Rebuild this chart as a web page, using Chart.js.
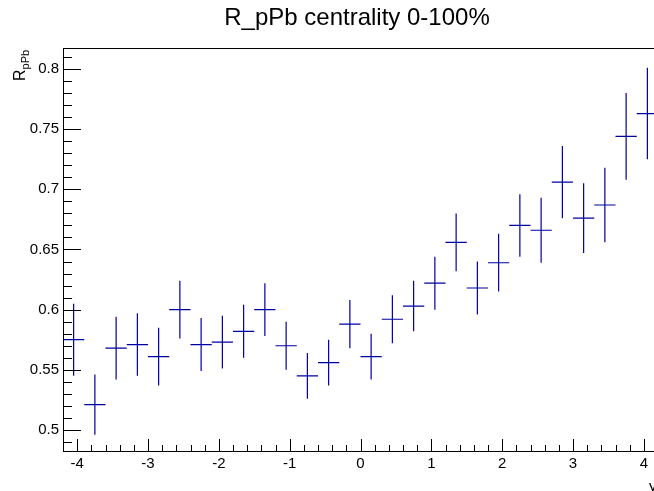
<!DOCTYPE html>
<html>
<head>
<meta charset="utf-8">
<title>R_pPb centrality 0-100%</title>
<script src="https://cdn.jsdelivr.net/npm/chart.js@4.4.1/dist/chart.umd.min.js"></script>
<style>
  html, body { margin: 0; padding: 0; background: #fff; overflow: hidden; }
  #wrap { width: 654px; height: 491px; overflow: hidden; }
</style>
</head>
<body>
<div id="wrap"><canvas id="rpPbChart" width="680" height="491"></canvas></div>
<script>
// --- Data: rapidity bin centres, R_pPb and its uncertainty per bin ---
const binCentres = [-4.05, -3.75, -3.45, -3.15, -2.85, -2.55, -2.25, -1.95, -1.65, -1.35,
                    -1.05, -0.75, -0.45, -0.15, 0.15, 0.45, 0.75, 1.05, 1.35, 1.65,
                    1.95, 2.25, 2.55, 2.85, 3.15, 3.45, 3.75, 4.05];
const binHalfWidth = 0.15;
const rpPbValues = [0.575, 0.521, 0.568, 0.571, 0.561, 0.600, 0.571, 0.573, 0.582, 0.600,
                    0.570, 0.545, 0.556, 0.588, 0.561, 0.592, 0.603, 0.622, 0.656, 0.618,
                    0.639, 0.670, 0.666, 0.706, 0.676, 0.687, 0.744, 0.763];
const rpPbErrors = [0.030, 0.025, 0.026, 0.026, 0.024, 0.024, 0.022, 0.022, 0.022, 0.022,
                    0.020, 0.019, 0.019, 0.020, 0.019, 0.020, 0.021, 0.022, 0.024, 0.022,
                    0.024, 0.026, 0.027, 0.030, 0.029, 0.031, 0.036, 0.038];
const xTickValues = [-4, -3, -2, -1, 0, 1, 2, 3, 4];
const yTickValues = [0.5, 0.55, 0.6, 0.65, 0.7, 0.75, 0.8];

const X_MIN = -4.2, X_MAX = 4.2;
const Y_MIN = 0.4825, Y_MAX = 0.8175;
const FONT = '"Liberation Sans", Helvetica, Arial, sans-serif';
const MARK_COLOR = '#0000a0';

// --- Error bars: horizontal bin width + vertical uncertainty ---
const errorBarsPlugin = {
    id: 'errorBars',
    afterDatasetsDraw(chart) {
        const { ctx, scales: { x, y } } = chart;
        ctx.save();
        ctx.strokeStyle = MARK_COLOR;
        ctx.lineWidth = 1.2;
        chart.data.datasets[0].data.forEach(p => {
            const px = x.getPixelForValue(p.x);
            const py = y.getPixelForValue(p.y);
            ctx.beginPath();
            ctx.moveTo(x.getPixelForValue(p.x - p.halfWidth), py);
            ctx.lineTo(x.getPixelForValue(p.x + p.halfWidth), py);
            ctx.moveTo(px, y.getPixelForValue(p.y + p.err));
            ctx.lineTo(px, y.getPixelForValue(p.y - p.err));
            ctx.stroke();
        });
        ctx.restore();
    }
};

// --- Frame with inward major/minor ticks, titles ---
const framePlugin = {
    id: 'frame',
    afterDraw(chart) {
        const { ctx, chartArea: a, scales: { x, y } } = chart;
        ctx.save();
        ctx.strokeStyle = '#000';
        ctx.lineWidth = 1;
        ctx.strokeRect(Math.round(a.left) + 0.5, Math.round(a.top) + 0.5,
                       Math.round(a.right - a.left), Math.round(a.bottom - a.top));

        ctx.beginPath();
        // y axis: minor every 0.01, major every 0.05
        for (let k = Math.ceil(Y_MIN * 100); k <= Math.floor(Y_MAX * 100); k++) {
            const py = Math.round(y.getPixelForValue(k / 100)) + 0.5;
            const len = (k % 5 === 0) ? 18 : 9;
            ctx.moveTo(a.left, py);
            ctx.lineTo(a.left + len, py);
        }
        // x axis: minor every 0.2, major every 1
        for (let k = Math.ceil(X_MIN * 5); k <= Math.floor(X_MAX * 5); k++) {
            const px = Math.round(x.getPixelForValue(k / 5)) + 0.5;
            const len = (k % 5 === 0) ? 12 : 6;
            ctx.moveTo(px, a.bottom);
            ctx.lineTo(px, a.bottom - len);
        }
        ctx.stroke();

        // title
        ctx.fillStyle = '#000';
        ctx.font = '24px ' + FONT;
        ctx.textAlign = 'center';
        ctx.textBaseline = 'alphabetic';
        ctx.fillText('R_pPb centrality 0-100%', 357, 25);

        // x axis title at the frame end
        ctx.font = '15px ' + FONT;
        ctx.textAlign = 'left';
        ctx.fillText('y', 649, 491);

        // y axis title R with subscript pPb, rotated
        ctx.translate(25, a.top + 33);
        ctx.rotate(-Math.PI / 2);
        ctx.font = '16px ' + FONT;
        ctx.fillText('R', 0, 0);
        const rw = ctx.measureText('R').width;
        ctx.font = '11px ' + FONT;
        ctx.fillText('pPb', rw, 4);
        ctx.restore();
    }
};

const points = binCentres.map((c, i) => ({
    x: c, y: rpPbValues[i], err: rpPbErrors[i], halfWidth: binHalfWidth
}));

new Chart(document.getElementById('rpPbChart'), {
    type: 'scatter',
    data: {
        datasets: [{
            label: 'R_pPb',
            data: points,
            pointRadius: 0,
            showLine: false
        }]
    },
    options: {
        responsive: false,
        animation: false,
        devicePixelRatio: 1,
        layout: { padding: { top: 48, right: 22, left: 0, bottom: 0 } },
        plugins: { legend: { display: false }, tooltip: { enabled: false } },
        scales: {
            x: {
                type: 'linear', min: X_MIN, max: X_MAX,
                border: { display: false },
                grid: { display: false, drawTicks: false },
                afterBuildTicks: s => { s.ticks = xTickValues.map(v => ({ value: v })); },
                afterFit: s => { s.height = 40; },
                ticks: {
                    color: '#000', padding: 4, maxRotation: 0,
                    font: { family: FONT, size: 15 },
                    callback: v => String(v)
                }
            },
            y: {
                type: 'linear', min: Y_MIN, max: Y_MAX,
                border: { display: false },
                grid: { display: false, drawTicks: false },
                afterBuildTicks: s => { s.ticks = yTickValues.map(v => ({ value: v })); },
                afterFit: s => { s.width = 63; },
                ticks: {
                    color: '#000', padding: 4,
                    font: { family: FONT, size: 15 },
                    callback: v => String(+Number(v).toFixed(2))
                }
            }
        }
    },
    plugins: [errorBarsPlugin, framePlugin]
});
</script>
</body>
</html>
